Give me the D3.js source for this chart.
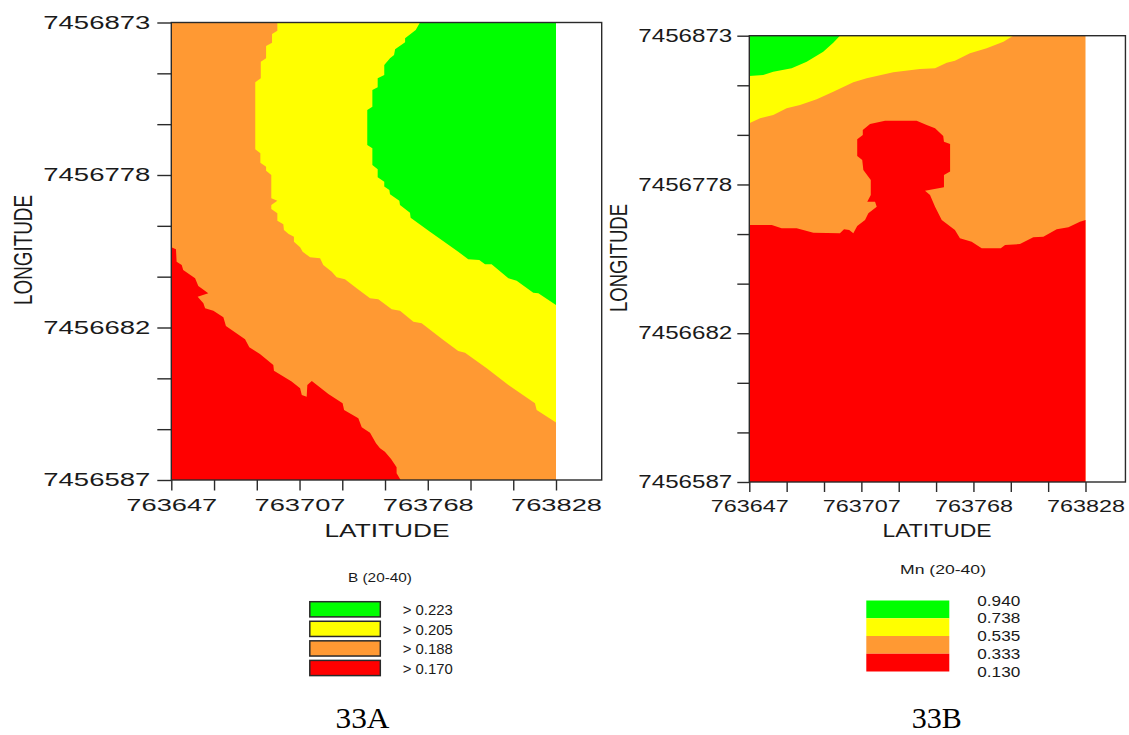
<!DOCTYPE html>
<html><head><meta charset="utf-8">
<script src="https://cdn.jsdelivr.net/npm/d3@7/dist/d3.min.js"></script>
<style>html,body{margin:0;padding:0;background:#fff}svg{display:block}text{font-family:"Liberation Sans",Arial,sans-serif;fill:#1a1a1a}</style>
</head><body><svg id="c" width="1129" height="735"></svg>
<script>
// Axis values
const latMin = 763647, latMax = 763828, latFrameMax = 763849.5;
const lonMin = 7456587, lonMax = 7456873;
const latLabels = [763647, 763707, 763768, 763828];
const lonLabels = [7456873, 7456778, 7456682, 7456587];
const tickDivisions = 9;

// Contour boundaries: [metres east of latMin, metres south of lonMax]
const bGreenEdge = [[117,0],[115,4.7],[110,9.9],[110,12.4],[105.3,16.8],[104.8,20.3],[102.9,22.4],[100.2,26.6],[100.2,32.8],[97.1,34.9],[97.1,40.5],[94.6,42.2],[94.6,52.6],[92.2,54.7],[92.2,76.6],[94.6,78.6],[94.6,89.1],[97.1,91.8],[97.1,96.8],[100.2,99.5],[100.2,102.6],[102.6,104.7],[102.9,107.4],[107.3,111.4],[107.6,114.1],[112.3,118.9],[112.6,122],[121.7,130.8],[127.2,136],[135,143.3],[139.7,148],[144.9,148.5],[147.6,151.2],[150.7,151.2],[158.6,159.9],[162.5,161.4],[170.3,168.9],[172.7,169.3],[181,176.6]];
const bYellowEdge = [[49.9,0],[49.9,5.1],[47.4,7.2],[47.4,12.6],[44.6,14.7],[44.6,22.4],[42.1,24.5],[42.1,34.9],[39.5,37.4],[39.5,79.3],[41.9,81.8],[41.9,87.6],[44.6,90.1],[44.6,92.6],[47.05,95.3],[47.05,109.9],[49.9,111.4],[47.05,114.1],[47.05,116.6],[49.9,119.3],[49.9,123.9],[52.7,126.1],[53,129.7],[55.2,132.2],[57.7,133.9],[57.7,137],[60.6,140.5],[61.8,143.3],[65.3,146.8],[70,147.4],[71.5,151.6],[75.5,155.8],[77.8,159.3],[81.7,160.5],[87.2,166.2],[93.5,172.4],[97.4,173],[103.7,179.3],[107.6,180.2],[113.9,187],[117.8,188],[128,198.5],[135,205.3],[138.2,206.4],[148.4,216.2],[158.6,226.6],[171.1,238],[171.9,242.2],[181,250]];
const bRedEdge = [[0,140.5],[2.2,141.8],[2.5,149.5],[4.9,151.6],[5.6,154.7],[11.2,159.9],[12.7,164.7],[17.4,169.3],[12.4,171.4],[15.1,175.5],[15.9,178.7],[19.8,180.2],[24.5,184.3],[25.7,189.7],[34.7,198],[36.7,203],[41.7,207.2],[48,214.1],[48.3,217.7],[56.6,224.5],[60.6,228.7],[61.4,232.9],[63.7,233.9],[64,226.6],[66.1,224.1],[73.9,232.2],[80.6,238],[81.3,242.2],[88,247.4],[89.6,253],[93.5,256.4],[96.3,263],[98.2,266.2],[100.5,268.3],[103.4,272.9],[106,278],[106,281.8],[107.9,286]];

const mnGreenEdge = [[0,25.8],[7.5,25.2],[12.9,23.1],[22.8,20.9],[30.9,16.7],[39.8,10.3],[45.2,4.5],[48.8,0]];
const mnYellowEdge = [[0,56.1],[5.8,52.9],[12.9,50.8],[20.1,46.5],[27.3,44.4],[36.3,40.8],[45.2,35.9],[56,29.9],[63.2,27.3],[77.5,23.5],[91.9,21.3],[100,20.9],[106.3,17.3],[110.7,16],[118.8,11.3],[127.8,8.1],[136.8,3.8],[142.1,0]];
const mnRedEdge = [[0,121.3],[12.1,121.3],[17.4,123.4],[25.5,123.4],[34.5,126.2],[48.8,126.6],[51,124.1],[53.8,124.5],[56,126.6],[58.1,121.9],[62.3,118.1],[64.1,113.8],[68.6,109.6],[67.7,106.4],[63.5,106.4],[65.4,102.1],[65.4,92.5],[61.4,86.1],[60.8,79.7],[58.1,77.1],[58.1,66.4],[61.1,63.6],[61.1,60.4],[65,56.6],[73.1,54.5],[90.1,54.5],[95.5,57.2],[100,59.3],[104.4,64.3],[104.8,67.9],[108.1,69.4],[108.1,87.1],[104.8,89.3],[104.8,97.1],[94.6,99.3],[97.3,102.1],[100,109.6],[103.6,118.1],[110.7,124.5],[113.4,129.8],[119.7,132],[125.1,136.2],[135.4,136.2],[137.7,134.1],[145.7,133.5],[152.9,129.2],[158.3,128.8],[165.5,124.1],[171.8,122.8],[178,119.2],[181,118.1]];

// Legends
const bTitle = "B (20-40)";
const bLabels = ["> 0.223","> 0.205","> 0.188","> 0.170"];
const mnTitle = "Mn (20-40)";
const mnLabels = ["0.940","0.738","0.535","0.333","0.130"];
const classColors = ["#00ff00","#ffff00","#ff9933","#ff0000"];

const svg = d3.select("#c");
const ink = "#2a2a2a";

function panel(o){
  const x = d3.scaleLinear().domain([latMin,latMax]).range([o.left,o.dataRight]);
  const y = d3.scaleLinear().domain([lonMin,lonMax]).range([o.bottom,o.top]);
  const g = svg.append("g");
  const line = d3.line().x(d=>x(latMin+d[0])).y(d=>y(lonMax-d[1])).curve(d3.curveLinear);
  const span = [latMax-latMin, lonMax-lonMin];
  // base class
  g.append("path").attr("fill",classColors[2])
    .attr("d",line([[0,0],[span[0],0],[span[0],span[1]],[0,span[1]]]));
  g.append("path").attr("fill",classColors[1]).attr("d",line(o.yellow.concat(o.yellowClose))+"Z");
  g.append("path").attr("fill",classColors[0]).attr("d",line(o.green.concat(o.greenClose))+"Z");
  g.append("path").attr("fill",classColors[3]).attr("d",line(o.red.concat(o.redClose))+"Z");
  // frame
  g.append("rect").attr("x",o.left).attr("y",o.top)
    .attr("width",x(latFrameMax)-o.left).attr("height",o.bottom-o.top)
    .attr("fill","none").attr("stroke",ink).attr("stroke-width",1.4);
  // axes
  const xTicks = d3.range(tickDivisions+1).map(i=>latMin+(latMax-latMin)*i/tickDivisions);
  const yTicks = d3.range(tickDivisions+1).map(i=>lonMin+(lonMax-lonMin)*i/tickDivisions);
  const xa = g.append("g").attr("transform",`translate(0,${o.bottom})`)
    .call(d3.axisBottom(x).tickValues(xTicks).tickSize(o.xTick).tickPadding(o.xPad)
      .tickFormat((d,i)=> i%3===0 ? latLabels[i/3] : ""));
  const ya = g.append("g").attr("transform",`translate(${o.left},0)`)
    .call(d3.axisLeft(y).tickValues(yTicks).tickSize(o.yTick).tickPadding(o.yPad)
      .tickFormat((d,i)=> i%3===0 ? lonLabels[3-i/3] : ""));
  [xa,ya].forEach(a=>{a.select(".domain").remove();
    a.selectAll(".tick line").attr("stroke",ink).attr("stroke-width",1.4);});
  xa.selectAll("text").filter(function(){return this.textContent!==""})
    .attr("font-size",17).attr("textLength",o.xLabelW).attr("lengthAdjust","spacingAndGlyphs")
    .style("font-family",'"Liberation Sans",Arial,sans-serif').attr("fill","#1a1a1a");
  ya.selectAll("text").filter(function(){return this.textContent!==""})
    .attr("font-size",18).attr("textLength",o.yLabelW).attr("lengthAdjust","spacingAndGlyphs")
    .style("font-family",'"Liberation Sans",Arial,sans-serif').attr("fill","#1a1a1a");
  // titles
  g.append("text").attr("x",o.latCx).attr("y",536.7).attr("text-anchor","middle")
    .attr("font-size",18).attr("textLength",o.latW).attr("lengthAdjust","spacingAndGlyphs").text("LATITUDE");
  g.append("text").attr("transform",`translate(${o.lonX},${o.lonCy}) rotate(-90)`).attr("text-anchor","middle")
    .attr("font-size",o.lonSize).attr("textLength",o.lonW).attr("lengthAdjust","spacingAndGlyphs").text("LONGITUDE");
}

const S = lonMax-lonMin, E = latMax-latMin;
panel({left:171.3,dataRight:556,top:22.5,bottom:480,
  yellow:bYellowEdge,yellowClose:[[E,0]],green:bGreenEdge,greenClose:[[E,0]],red:bRedEdge,redClose:[[0,S]],
  xTick:10.5,xPad:8,yTick:14,yPad:7,xLabelW:91,yLabelW:107,latCx:387,latW:125,lonX:32,lonCy:250,lonSize:26,lonW:110});
panel({left:749.3,dataRight:1085.5,top:35.7,bottom:482,
  yellow:mnYellowEdge,yellowClose:[[0,0]],green:mnGreenEdge,greenClose:[[0,0]],red:mnRedEdge,redClose:[[E,S],[0,S]],
  xTick:10,xPad:8,yTick:12,yPad:5,xLabelW:78,yLabelW:94,latCx:937,latW:109,lonX:627,lonCy:258,lonSize:23.5,lonW:108});

// Left legend: outlined boxes
const bY = d3.scalePoint().domain(bLabels).range([609.3,668]);
svg.append("text").attr("x",380).attr("y",581.5).attr("text-anchor","middle").attr("font-size",13)
  .attr("textLength",64).attr("lengthAdjust","spacingAndGlyphs").text(bTitle);
bLabels.forEach((t,i)=>{
  svg.append("rect").attr("x",309.8).attr("y",bY(t)-7.6).attr("width",70.5).attr("height",15.2)
    .attr("fill",classColors[i]).attr("stroke",ink).attr("stroke-width",1.5);
  svg.append("text").attr("x",402.7).attr("y",bY(t)+6).attr("font-size",14)
    .attr("textLength",50).attr("lengthAdjust","spacingAndGlyphs").text(t);
});

// Right legend: continuous bands
const mnY = d3.scalePoint().domain(mnLabels).range([600.5,671.5]);
svg.append("text").attr("x",943).attr("y",573.5).attr("text-anchor","middle").attr("font-size",13)
  .attr("textLength",86).attr("lengthAdjust","spacingAndGlyphs").text(mnTitle);
classColors.forEach((c,i)=>{
  svg.append("rect").attr("x",866.3).attr("y",mnY(mnLabels[i])).attr("width",83)
    .attr("height",mnY(mnLabels[i+1])-mnY(mnLabels[i])).attr("fill",c);
});
mnLabels.forEach(t=>{
  svg.append("text").attr("x",977.3).attr("y",mnY(t)+5).attr("font-size",14)
    .attr("textLength",43).attr("lengthAdjust","spacingAndGlyphs").text(t);
});

// Panel captions
[["33A",362.5,54],["33B",936.7,50]].forEach(([t,cx,w])=>{
  svg.append("text").attr("x",cx).attr("y",728).attr("text-anchor","middle").attr("font-size",29)
    .attr("textLength",w).attr("lengthAdjust","spacingAndGlyphs")
    .style("font-family",'"Liberation Serif","Times New Roman",serif').style("fill","#000").text(t);
});
</script></body></html>
